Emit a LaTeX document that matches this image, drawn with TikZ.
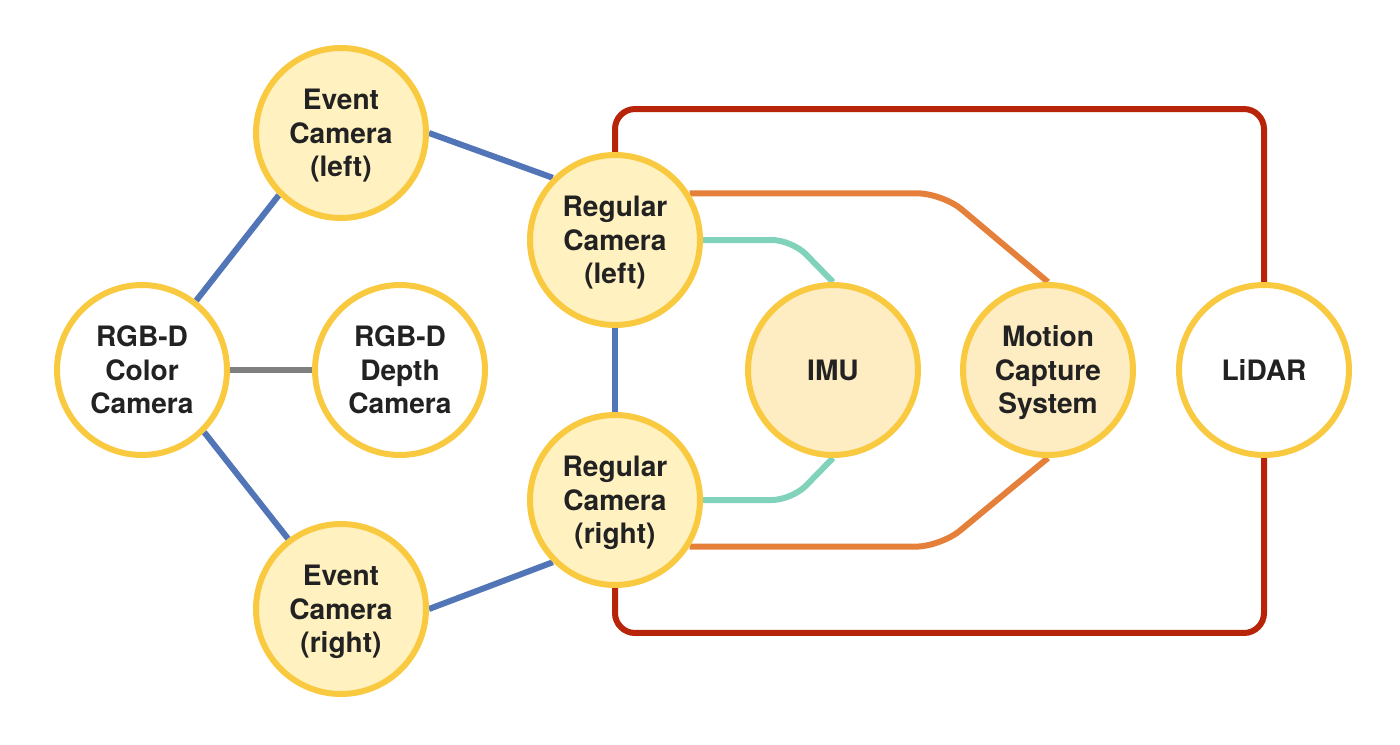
\documentclass[tikz,border=0pt]{standalone}
\usepackage{fontspec}
\setmainfont{TeX Gyre Heros}
\usetikzlibrary{backgrounds}
\definecolor{ystroke}{HTML}{F9C940}
\definecolor{yfill}{HTML}{FFF1C0}
\definecolor{yfillb}{HTML}{FEECC2}
\definecolor{cblue}{HTML}{5275B8}
\definecolor{cgray}{HTML}{808080}
\definecolor{cteal}{HTML}{80D2BA}
\definecolor{corange}{HTML}{E4803A}
\definecolor{cred}{HTML}{B7240A}
\definecolor{ctext}{HTML}{222222}
\newcommand\sensortext[1]{\raisebox{-0.07cm}[\height][\depth]{\begin{tabular}{@{}c@{}}#1\end{tabular}}}
\begin{document}
\begin{tikzpicture}[x=0.02cm,y=-0.02cm,
  sensor/.style={circle, draw=ystroke, line width=0.12cm, minimum size=3.4cm,
    inner sep=0pt, font=\fontsize{16}{19}\selectfont\bfseries, text=ctext},
  warm/.style={sensor, fill=yfill},
  warmb/.style={sensor, fill=yfillb},
  cool/.style={sensor, fill=white},
  link/.style={line width=0.12cm},
  bluelink/.style={link, draw=cblue},
  graylink/.style={link, draw=cgray},
  teallink/.style={link, draw=cteal, rounded corners=0.4cm},
  orangelink/.style={link, draw=corange, rounded corners=0.5cm},
  redlink/.style={link, draw=cred, rounded corners=0.4cm}]
\useasboundingbox (0,0) rectangle (1400,744);

\node[warm]  (el)  at (341,133) {\sensortext{Event\\Camera\\(left)}};
\node[cool]  (rc)  at (142,370) {\sensortext{RGB-D\\Color\\Camera}};
\node[cool]  (rd)  at (400,370) {\sensortext{RGB-D\\Depth\\Camera}};
\node[warm]  (er)  at (341,609) {\sensortext{Event\\Camera\\(right)}};
\node[warm]  (rl)  at (615,240) {\sensortext{Regular\\Camera\\(left)}};
\node[warm]  (rr)  at (615,500) {\sensortext{Regular\\Camera\\(right)}};
\node[warmb] (imu) at (833,370) {IMU};
\node[warmb] (mc)  at (1048,370) {\sensortext{Motion\\Capture\\System}};
\node[cool]  (li)  at (1264,370) {LiDAR};

\begin{pgfonlayer}{background}
  \draw[redlink] (rl.north) -- ++(0,-43) -| (li.north);
  \draw[redlink] (rr.south) -- ++(0,45) -| (li.south);
  \draw[orangelink] (rl.32) -- ++(253,0) -- (mc.north);
  \draw[orangelink] (rr.-32) -- ++(251,0) -- (mc.south);
  \draw[teallink] (rl.east) -- ++(89,0) -- (imu.north);
  \draw[teallink] (rr.east) -- ++(89,0) -- (imu.south);
  \draw[bluelink] (el.east) -- (rl.135);
  \draw[bluelink] (el.225) -- (rc.52);
  \draw[bluelink] (rc.-45) -- (er.127);
  \draw[bluelink] (er.east) -- (rr.225);
  \draw[bluelink] (rl.south) -- (rr.north);
  \draw[graylink] (rc.east) -- (rd.west);
\end{pgfonlayer}
\end{tikzpicture}
\end{document}
